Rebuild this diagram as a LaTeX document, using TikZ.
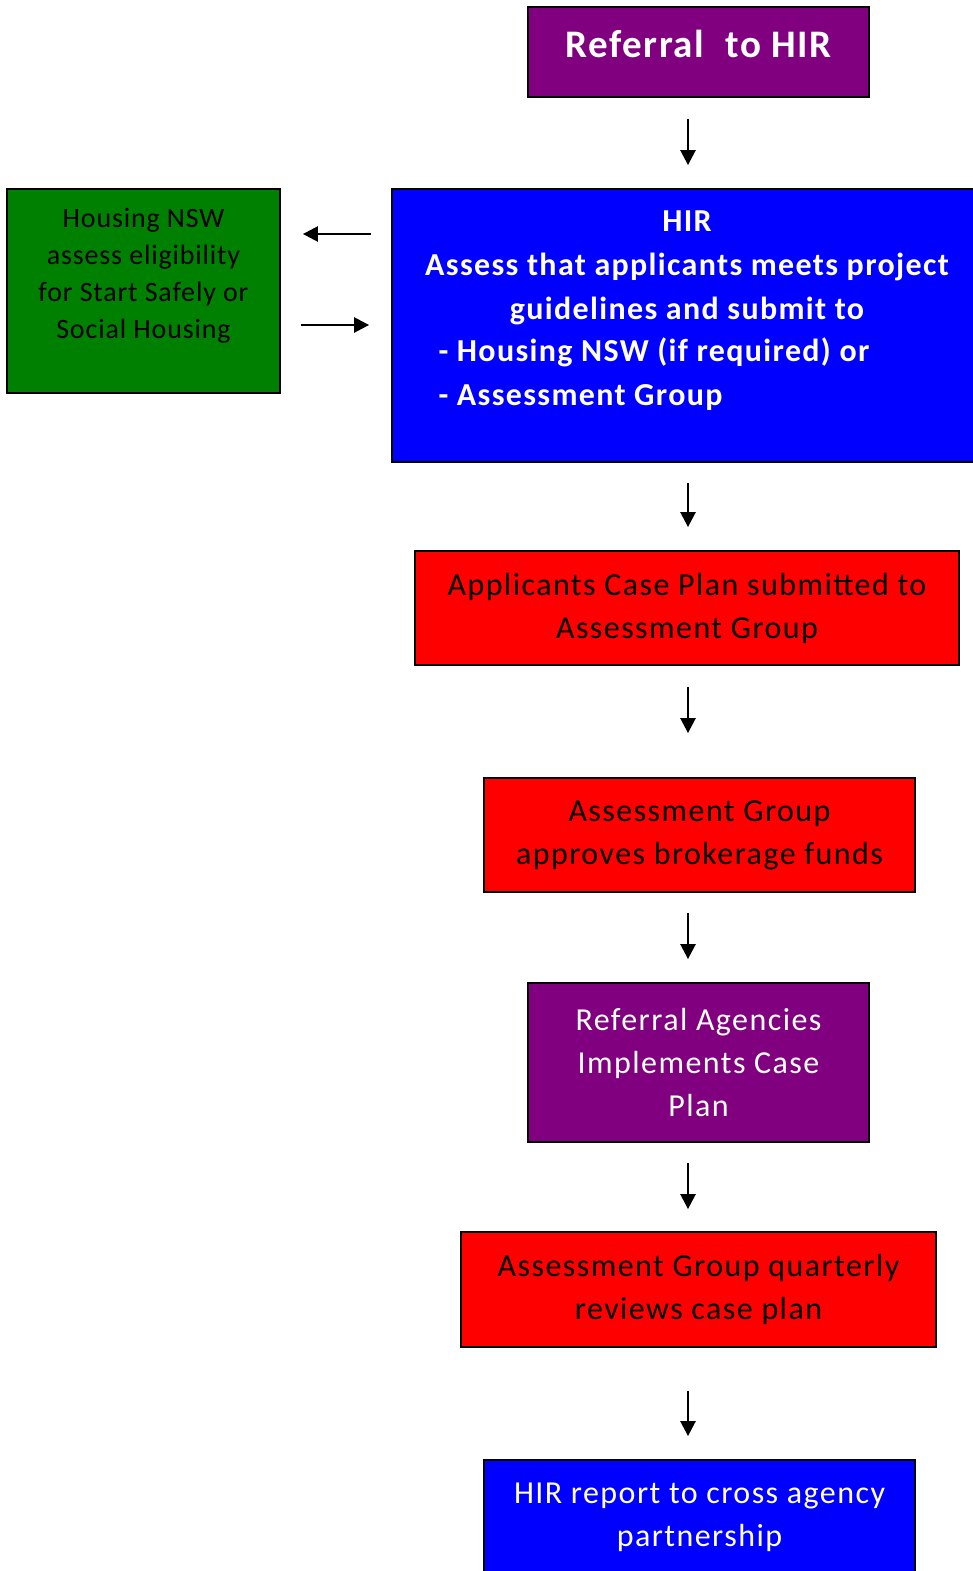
\documentclass[tikz,border=0pt]{standalone}
\usepackage{fontspec}
\setmainfont{Carlito}
\newfontfamily\spacedfont{Carlito}[LetterSpace=4.5]
\newfontfamily\headfont{Carlito}[LetterSpace=4.2]
\newfontfamily\greenfont{Carlito}[LetterSpace=3]
\usetikzlibrary{arrows.meta,positioning}
\definecolor{hirpurple}{HTML}{800080}
\definecolor{hirblue}{HTML}{0000FF}
\definecolor{hirred}{HTML}{FF0000}
\definecolor{hirgreen}{HTML}{008000}

\begin{document}
\begin{tikzpicture}[x=1pt,y=-1pt,
    box/.style={draw=black,line width=1.8pt,inner sep=0pt},
    txt/.style={align=center,font=\spacedfont\fontsize{32}{43}\selectfont},
    boldtxt/.style={align=center,text=white,font=\headfont\bfseries\fontsize{32}{44}\selectfont},
    flow/.style={line width=2.5pt,-{Triangle[length=15pt,width=15pt]}}]
  \useasboundingbox (0,0) rectangle (972,1571);
  \coordinate (spine) at (688,0);

  % top of the flow
  \node[box,fill=hirpurple,minimum width=341pt,minimum height=90pt] (referral) at (698.5,52) {};
  \node[boldtxt,font=\headfont\bfseries\fontsize{39}{44}\selectfont] (referral-text) at (698.5,44) {Referral\ \ to HIR};

  \node[box,fill=hirblue,minimum width=590pt,minimum height=273pt] (hir) at (687,325.5) {};
  \node[boldtxt] (hir-head) at (687,268) {HIR\\Assess that applicants meets project\\guidelines and submit to};
  \node[boldtxt,align=left,anchor=west] (hir-list) at (435,374) {- Housing NSW (if required) or\\- Assessment Group};

  \node[box,fill=hirgreen,minimum width=273pt,minimum height=204pt] (housing) at (143.5,291) {};
  \node[txt,font=\greenfont\fontsize{28}{37}\selectfont] (housing-text) at (143.5,276)
    {Housing NSW\\assess eligibility\\for Start Safely or\\Social Housing};

  % main column
  \node[box,fill=hirred,minimum width=544pt,minimum height=114pt,txt] (caseplan) at (687,608)
    {Applicants Case Plan submitted to\\Assessment Group};
  \node[box,fill=hirred,minimum width=431pt,minimum height=114pt,txt] (funds) at (699.5,835)
    {Assessment Group\\approves brokerage funds};
  \node[box,fill=hirpurple,minimum width=341pt,minimum height=159pt,txt,text=white] (agencies) at (698.5,1062.5)
    {Referral Agencies\\Implements Case\\Plan};
  \node[box,fill=hirred,minimum width=475pt,minimum height=115pt,txt] (reviews) at (698.5,1289.5)
    {Assessment Group quarterly\\reviews case plan};
  \node[box,fill=hirblue,minimum width=431pt,minimum height=114pt,txt,text=white] (report) at (699.5,1517)
    {HIR report to cross agency\\partnership};

  % connectors
  \draw[flow,shorten <=21pt,shorten >=23pt] (referral.south -| spine) -- (hir.north -| spine);
  \draw[flow,shorten <=20pt,shorten >=22pt] (hir.west |- 0,234) -- (housing.east |- 0,234);
  \draw[flow,shorten <=20pt,shorten >=22pt] (housing.east |- 0,325) -- (hir.west |- 0,325);
  \draw[flow,shorten <=20pt,shorten >=23pt] (hir.south -| spine) -- (caseplan.north -| spine);
  \draw[flow,shorten <=21pt,shorten >=44pt] (caseplan.south -| spine) -- (funds.north -| spine);
  \draw[flow,shorten <=20pt,shorten >=23pt] (funds.south -| spine) -- (agencies.north -| spine);
  \draw[flow,shorten <=20pt,shorten >=22pt] (agencies.south -| spine) -- (reviews.north -| spine);
  \draw[flow,shorten <=43pt,shorten >=23pt] (reviews.south -| spine) -- (report.north -| spine);
\end{tikzpicture}
\end{document}
